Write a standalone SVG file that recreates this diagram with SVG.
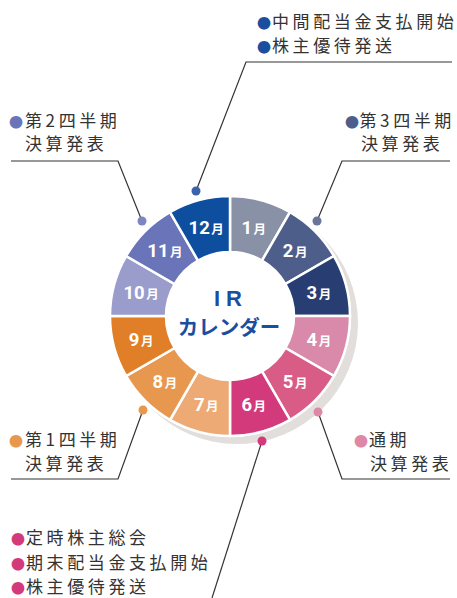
<svg xmlns="http://www.w3.org/2000/svg" width="457" height="598" viewBox="0 0 457 598">
<style>
.seg{stroke:#fff;stroke-width:2.5;stroke-linejoin:miter}
.ml{font-family:Roboto,"Noto Sans CJK JP",sans-serif;font-weight:700;font-size:18.5px;fill:#fff;text-anchor:middle}
.ml .m{font-family:"Noto Sans CJK JP",sans-serif;font-size:12.5px}
.t{font-family:"Noto Sans CJK JP",sans-serif;font-size:17px;letter-spacing:3.6px;fill:#333}
.t .b{font-size:14px;letter-spacing:0}
.ln{fill:none;stroke:#333;stroke-width:1.2}
.ct{font-weight:700;fill:#1a4e9e}
</style>
<rect width="457" height="598" fill="#fff"/>
<g id="ring">
<circle cx="237" cy="323" r="121" fill="#e2dedc"/>
<circle cx="230" cy="316" r="121" fill="#fff"/>
</g>
<g id="m1"><path class="seg" fill="#8891a5" d="M230,196 A120,120 0 0 1 290,212.08 L262,260.57 A64,64 0 0 0 230,252 Z"/><text class="ml" x="253.8" y="233.6">1<tspan class="m" dx="1.5">月</tspan></text></g>
<g id="m2"><path class="seg" fill="#4e5e8b" d="M290,212.08 A120,120 0 0 1 333.92,256 L285.43,284 A64,64 0 0 0 262,260.57 Z"/><text class="ml" x="295.1" y="257.4">2<tspan class="m" dx="1.5">月</tspan></text></g>
<g id="m3"><path class="seg" fill="#283e72" d="M333.92,256 A120,120 0 0 1 350,316 L294,316 A64,64 0 0 0 285.43,284 Z"/><text class="ml" x="318.9" y="298.7">3<tspan class="m" dx="1.5">月</tspan></text></g>
<g id="m4"><path class="seg" fill="#d98aab" d="M350,316 A120,120 0 0 1 333.92,376 L285.43,348 A64,64 0 0 0 294,316 Z"/><text class="ml" x="318.9" y="346.3">4<tspan class="m" dx="1.5">月</tspan></text></g>
<g id="m5"><path class="seg" fill="#d95c87" d="M333.92,376 A120,120 0 0 1 290,419.92 L262,371.43 A64,64 0 0 0 285.43,348 Z"/><text class="ml" x="295.1" y="387.6">5<tspan class="m" dx="1.5">月</tspan></text></g>
<g id="m6"><path class="seg" fill="#d23a7c" d="M290,419.92 A120,120 0 0 1 230,436 L230,380 A64,64 0 0 0 262,371.43 Z"/><text class="ml" x="253.8" y="411.4">6<tspan class="m" dx="1.5">月</tspan></text></g>
<g id="m7"><path class="seg" fill="#eeaa74" d="M230,436 A120,120 0 0 1 170,419.92 L198,371.43 A64,64 0 0 0 230,380 Z"/><text class="ml" x="206.2" y="411.4">7<tspan class="m" dx="1.5">月</tspan></text></g>
<g id="m8"><path class="seg" fill="#e8974e" d="M170,419.92 A120,120 0 0 1 126.08,376 L174.57,348 A64,64 0 0 0 198,371.43 Z"/><text class="ml" x="164.9" y="387.6">8<tspan class="m" dx="1.5">月</tspan></text></g>
<g id="m9"><path class="seg" fill="#e07f27" d="M126.08,376 A120,120 0 0 1 110,316 L166,316 A64,64 0 0 0 174.57,348 Z"/><text class="ml" x="141.1" y="346.3">9<tspan class="m" dx="1.5">月</tspan></text></g>
<g id="m10"><path class="seg" fill="#9a9dcc" d="M110,316 A120,120 0 0 1 126.08,256 L174.57,284 A64,64 0 0 0 166,316 Z"/><text class="ml" x="141.1" y="298.7">10<tspan class="m" dx="1.5">月</tspan></text></g>
<g id="m11"><path class="seg" fill="#6a74b9" d="M126.08,256 A120,120 0 0 1 170,212.08 L198,260.57 A64,64 0 0 0 174.57,284 Z"/><text class="ml" x="164.9" y="257.4">11<tspan class="m" dx="1.5">月</tspan></text></g>
<g id="m12"><path class="seg" fill="#0d4e9f" d="M170,212.08 A120,120 0 0 1 230,196 L230,252 A64,64 0 0 0 198,260.57 Z"/><text class="ml" x="206.2" y="233.6">12<tspan class="m" dx="1.5">月</tspan></text></g>
<g id="center">
<text class="ct" x="214" y="306" font-family="'Liberation Sans',sans-serif" font-size="22" letter-spacing="6">IR</text>
<text class="ct" x="229" y="334.5" font-family="'Noto Sans CJK JP',sans-serif" font-size="20.5" text-anchor="middle">カレンダー</text>
</g>
<g id="connectors">
<polyline class="ln" points="196,191 246,62 452,62"/>
<polyline class="ln" points="142,221 118,161 11,161"/>
<polyline class="ln" points="317,221 342,161 450,161"/>
<polyline class="ln" points="143,410 118,479 11,479"/>
<polyline class="ln" points="318,412 342,479 450,479"/>
<polyline class="ln" points="262,441 212,598"/>
<circle cx="196" cy="191" r="4.5" fill="#3a62ad"/>
<circle cx="142" cy="221" r="4.5" fill="#7d86c2"/>
<circle cx="317" cy="221" r="4.5" fill="#6b7499"/>
<circle cx="143" cy="410" r="4.5" fill="#e8974e"/>
<circle cx="318" cy="412" r="4.5" fill="#de88a5"/>
<circle cx="262" cy="441" r="4.5" fill="#d23a7c"/>
</g>
<g id="note-top">
<text class="t" y="28"><tspan class="b" x="257" fill="#1a4fa0">●</tspan><tspan x="272">中間配当金支払開始</tspan></text>
<text class="t" y="51.5"><tspan class="b" x="257" fill="#1a4fa0">●</tspan><tspan x="272">株主優待発送</tspan></text>
</g>
<g id="note-q2">
<text class="t" y="126.5"><tspan class="b" x="9" fill="#6a74b9">●</tspan><tspan x="25">第2四半期</tspan></text>
<text class="t" x="25" y="150">決算発表</text>
</g>
<g id="note-q3">
<text class="t" y="126.5"><tspan class="b" x="345" fill="#4e5e8b">●</tspan><tspan x="359.5">第3四半期</tspan></text>
<text class="t" x="361" y="150">決算発表</text>
</g>
<g id="note-q1">
<text class="t" y="445.5"><tspan class="b" x="9" fill="#e8974e">●</tspan><tspan x="25">第1四半期</tspan></text>
<text class="t" x="25" y="470">決算発表</text>
</g>
<g id="note-fy">
<text class="t" y="445.5"><tspan class="b" x="354" fill="#de88a5">●</tspan><tspan x="369">通期</tspan></text>
<text class="t" x="370" y="470">決算発表</text>
</g>
<g id="note-bottom">
<text class="t" y="544"><tspan class="b" x="11" fill="#d23a7c">●</tspan><tspan x="26">定時株主総会</tspan></text>
<text class="t" y="568.5"><tspan class="b" x="11" fill="#d23a7c">●</tspan><tspan x="26">期末配当金支払開始</tspan></text>
<text class="t" y="593"><tspan class="b" x="11" fill="#d23a7c">●</tspan><tspan x="26">株主優待発送</tspan></text>
</g>
</svg>
